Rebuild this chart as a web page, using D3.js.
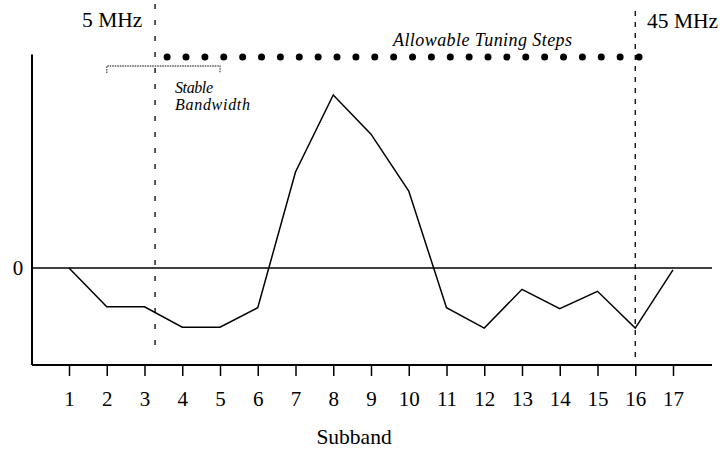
<!DOCTYPE html>
<html>
<head>
<meta charset="utf-8">
<script src="https://cdn.jsdelivr.net/npm/d3@7"></script>
<style>
  body { margin: 0; background: #fff; }
  text { font-family: "Liberation Serif", "Times New Roman", serif; fill: #000; }
</style>
</head>
<body>
<script>
// subbands and the response per subband (arbitrary units, 0 = reference level)
var subbands = [1, 2, 3, 4, 5, 6, 7, 8, 9, 10, 11, 12, 13, 14, 15, 16, 17];
var response = [0, -2.0, -2.0, -3.05, -3.05, -2.05, 4.95, 8.92, 6.9, 3.97, -2.05, -3.1, -1.1, -2.1, -1.2, -3.1, -0.1];

// allowable tuning steps (in subband units)
var tuningSteps = [3.6, 4.1, 4.6, 5.1, 5.6, 6.1, 6.6, 7.1, 7.6, 8.1, 8.6, 9.1, 9.6,
  10.1, 10.6, 11.1, 11.6, 12.1, 12.6, 13.1, 13.6, 14.1, 14.6, 15.1, 15.6, 16.1];

// frequency markers
var markers = [{ label: "5 MHz", band: 3.28 }, { label: "45 MHz", band: 16.0 }];

// stable bandwidth span
var stableSpan = [2, 5];

var W = 723, H = 449;
var svg = d3.select("body").append("svg").attr("width", W).attr("height", H);

// scales
var x = d3.scaleLinear().domain([1, 17]).range([69, 673]);
var y = d3.scaleLinear().domain([-5, 11]).range([365, 54.6]);
var left = 32, right = 712;

// y axis line
svg.append("line").attr("x1", left).attr("x2", left).attr("y1", y(11)).attr("y2", y(-5))
  .attr("stroke", "#000").attr("stroke-width", 2);

// x axis
var xAxis = d3.axisBottom(x).tickValues(subbands).tickSize(11).tickPadding(15).tickFormat(d3.format("d"));
var gx = svg.append("g").attr("transform", "translate(0," + y(-5) + ")").call(xAxis);
gx.select(".domain").remove();
gx.selectAll(".tick line").attr("stroke", "#000").attr("stroke-width", 1.5);
gx.selectAll(".tick text").attr("font-size", 21).attr("font-family", "Liberation Serif");
gx.append("line").attr("x1", left).attr("x2", right).attr("y1", 0).attr("y2", 0)
  .attr("stroke", "#000").attr("stroke-width", 2);

// zero line
svg.append("line").attr("x1", left).attr("x2", right).attr("y1", y(0)).attr("y2", y(0))
  .attr("stroke", "#000").attr("stroke-width", 1.5);
svg.append("text").attr("x", 18).attr("y", y(0) + 7).attr("text-anchor", "middle")
  .attr("font-size", 21).text("0");

// axis title
svg.append("text").attr("x", 354).attr("y", 444).attr("text-anchor", "middle")
  .attr("font-size", 21.5).text("Subband");

// response line
var line = d3.line().x(function (d, i) { return x(subbands[i]); }).y(function (d) { return y(d); });
svg.append("path").datum(response).attr("d", line)
  .attr("fill", "none").attr("stroke", "#000").attr("stroke-width", 1.5);

// frequency marker lines
svg.append("line").attr("x1", x(markers[0].band)).attr("x2", x(markers[0].band))
  .attr("y1", 4).attr("y2", 356).attr("stroke", "#000").attr("stroke-width", 1.3)
  .attr("stroke-dasharray", "5,11");
svg.append("line").attr("x1", x(markers[1].band)).attr("x2", x(markers[1].band))
  .attr("y1", 11).attr("y2", 362).attr("stroke", "#000").attr("stroke-width", 1.3)
  .attr("stroke-dasharray", "5,6");
svg.append("text").attr("x", 82).attr("y", 27).attr("font-size", 21.5).text(markers[0].label);
svg.append("text").attr("x", 647).attr("y", 28).attr("font-size", 21.5).text(markers[1].label);

// tuning step dots
svg.selectAll("circle.step").data(tuningSteps).enter().append("circle")
  .attr("class", "step")
  .attr("cx", function (d) { return x(d); })
  .attr("cy", 57)
  .attr("r", 3.5)
  .attr("fill", "#000");
svg.append("text").attr("x", 393).attr("y", 46)
  .attr("font-family", "Liberation Sans").attr("font-style", "italic")
  .attr("font-size", 18).attr("textLength", 179).text("Allowable Tuning Steps");

// stable bandwidth bracket
var bx1 = x(stableSpan[0]), bx2 = x(stableSpan[1]);
svg.append("path").attr("d", "M" + bx1 + ",73V66H" + bx2 + "V73")
  .attr("fill", "none").attr("stroke", "#555").attr("stroke-width", 1.3)
  .attr("stroke-dasharray", "1.5,1");
svg.append("text").attr("x", 175).attr("y", 93).attr("font-style", "italic")
  .attr("font-size", 16).attr("fill", "#333").attr("textLength", 38).text("Stable");
svg.append("text").attr("x", 175).attr("y", 110).attr("font-style", "italic")
  .attr("font-size", 16).attr("fill", "#333").attr("textLength", 75).text("Bandwidth");
</script>
</body>
</html>
